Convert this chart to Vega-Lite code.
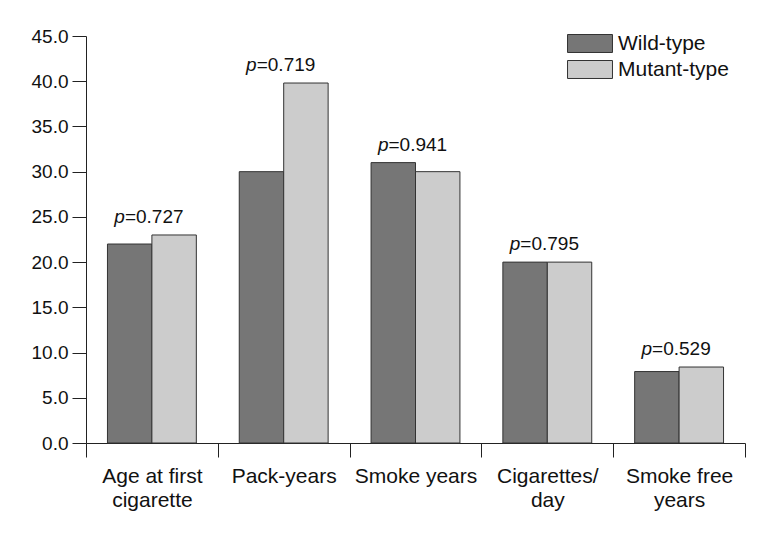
{
  "$schema": "https://vega.github.io/schema/vega-lite/v6.json",
  "width": 659,
  "height": 407,
  "autosize": {"type": "none"},
  "padding": {"left": 86, "top": 36, "right": 20, "bottom": 90},
  "background": "white",
  "config": {
    "view": {"stroke": null},
    "font": "Liberation Sans",
    "axis": {
      "domainColor": "#222222",
      "tickColor": "#222222",
      "labelColor": "#111111",
      "labelFont": "Liberation Sans",
      "grid": false,
      "title": null
    }
  },
  "datasets": {
    "bars": [
      {"measure": "Age at first cigarette", "group": "Wild-type", "value": 22.0},
      {"measure": "Age at first cigarette", "group": "Mutant-type", "value": 23.0},
      {"measure": "Pack-years", "group": "Wild-type", "value": 30.0},
      {"measure": "Pack-years", "group": "Mutant-type", "value": 39.8},
      {"measure": "Smoke years", "group": "Wild-type", "value": 31.0},
      {"measure": "Smoke years", "group": "Mutant-type", "value": 30.0},
      {"measure": "Cigarettes/day", "group": "Wild-type", "value": 20.0},
      {"measure": "Cigarettes/day", "group": "Mutant-type", "value": 20.0},
      {"measure": "Smoke free years", "group": "Wild-type", "value": 7.9},
      {"measure": "Smoke free years", "group": "Mutant-type", "value": 8.4}
    ],
    "pvals": [
      {"measure": "Age at first cigarette", "top": 23.0, "p": "=0.727"},
      {"measure": "Pack-years", "top": 39.8, "p": "=0.719"},
      {"measure": "Smoke years", "top": 31.0, "p": "=0.941"},
      {"measure": "Cigarettes/day", "top": 20.0, "p": "=0.795"},
      {"measure": "Smoke free years", "top": 8.4, "p": "=0.529"}
    ]
  },
  "layer": [
    {
      "data": {"name": "bars"},
      "mark": {"type": "bar", "stroke": "#333333", "strokeWidth": 1},
      "encoding": {
        "x": {
          "field": "measure",
          "type": "nominal",
          "sort": ["Age at first cigarette", "Pack-years", "Smoke years", "Cigarettes/day", "Smoke free years"],
          "scale": {"paddingInner": 0, "paddingOuter": 0},
          "axis": {
            "labelAngle": 0,
            "tickBand": "extent",
            "tickSize": 14,
            "labelPadding": 8,
            "labelFontSize": 21,
            "labelLineHeight": 24,
            "labelBaseline": "top",
            "labelExpr": "datum.label == 'Age at first cigarette' ? ['Age at first', 'cigarette'] : datum.label == 'Cigarettes/day' ? ['Cigarettes/', 'day'] : datum.label == 'Smoke free years' ? ['Smoke free', 'years'] : datum.label"
          }
        },
        "xOffset": {
          "field": "group",
          "type": "nominal",
          "sort": ["Wild-type", "Mutant-type"],
          "scale": {"paddingInner": 0, "paddingOuter": 0.483}
        },
        "y": {
          "field": "value",
          "type": "quantitative",
          "scale": {"domain": [0, 45], "nice": false},
          "axis": {
            "values": [0, 5, 10, 15, 20, 25, 30, 35, 40, 45],
            "format": ".1f",
            "tickSize": 14,
            "labelPadding": 4,
            "labelFontSize": 19
          }
        },
        "color": {
          "field": "group",
          "type": "nominal",
          "sort": ["Wild-type", "Mutant-type"],
          "scale": {"domain": ["Wild-type", "Mutant-type"], "range": ["#767676", "#cccccc"]},
          "legend": {
            "title": null,
            "orient": "none",
            "legendX": 489,
            "legendY": -7.5,
            "padding": 0,
            "rowPadding": 0,
            "symbolType": "M-1.55,-0.62H1.55V0.62H-1.55Z",
            "symbolSize": 841,
            "symbolStrokeColor": "#333333",
            "symbolStrokeWidth": 1,
            "symbolOpacity": 1,
            "labelFontSize": 21,
            "labelOffset": 13,
            "labelColor": "#111111",
            "labelFont": "Liberation Sans"
          }
        }
      }
    },
    {
      "data": {"name": "pvals"},
      "mark": {"type": "text", "text": "p", "fontStyle": "italic", "fontSize": 19, "align": "right", "baseline": "alphabetic", "dx": -27, "dy": -12, "color": "#111111"},
      "encoding": {
        "x": {"field": "measure", "type": "nominal", "sort": ["Age at first cigarette", "Pack-years", "Smoke years", "Cigarettes/day", "Smoke free years"]},
        "y": {"field": "top", "type": "quantitative"}
      }
    },
    {
      "data": {"name": "pvals"},
      "mark": {"type": "text", "fontSize": 19, "align": "left", "baseline": "alphabetic", "dx": -27, "dy": -12, "color": "#111111"},
      "encoding": {
        "x": {"field": "measure", "type": "nominal", "sort": ["Age at first cigarette", "Pack-years", "Smoke years", "Cigarettes/day", "Smoke free years"]},
        "y": {"field": "top", "type": "quantitative"},
        "text": {"field": "p", "type": "nominal"}
      }
    }
  ]
}
